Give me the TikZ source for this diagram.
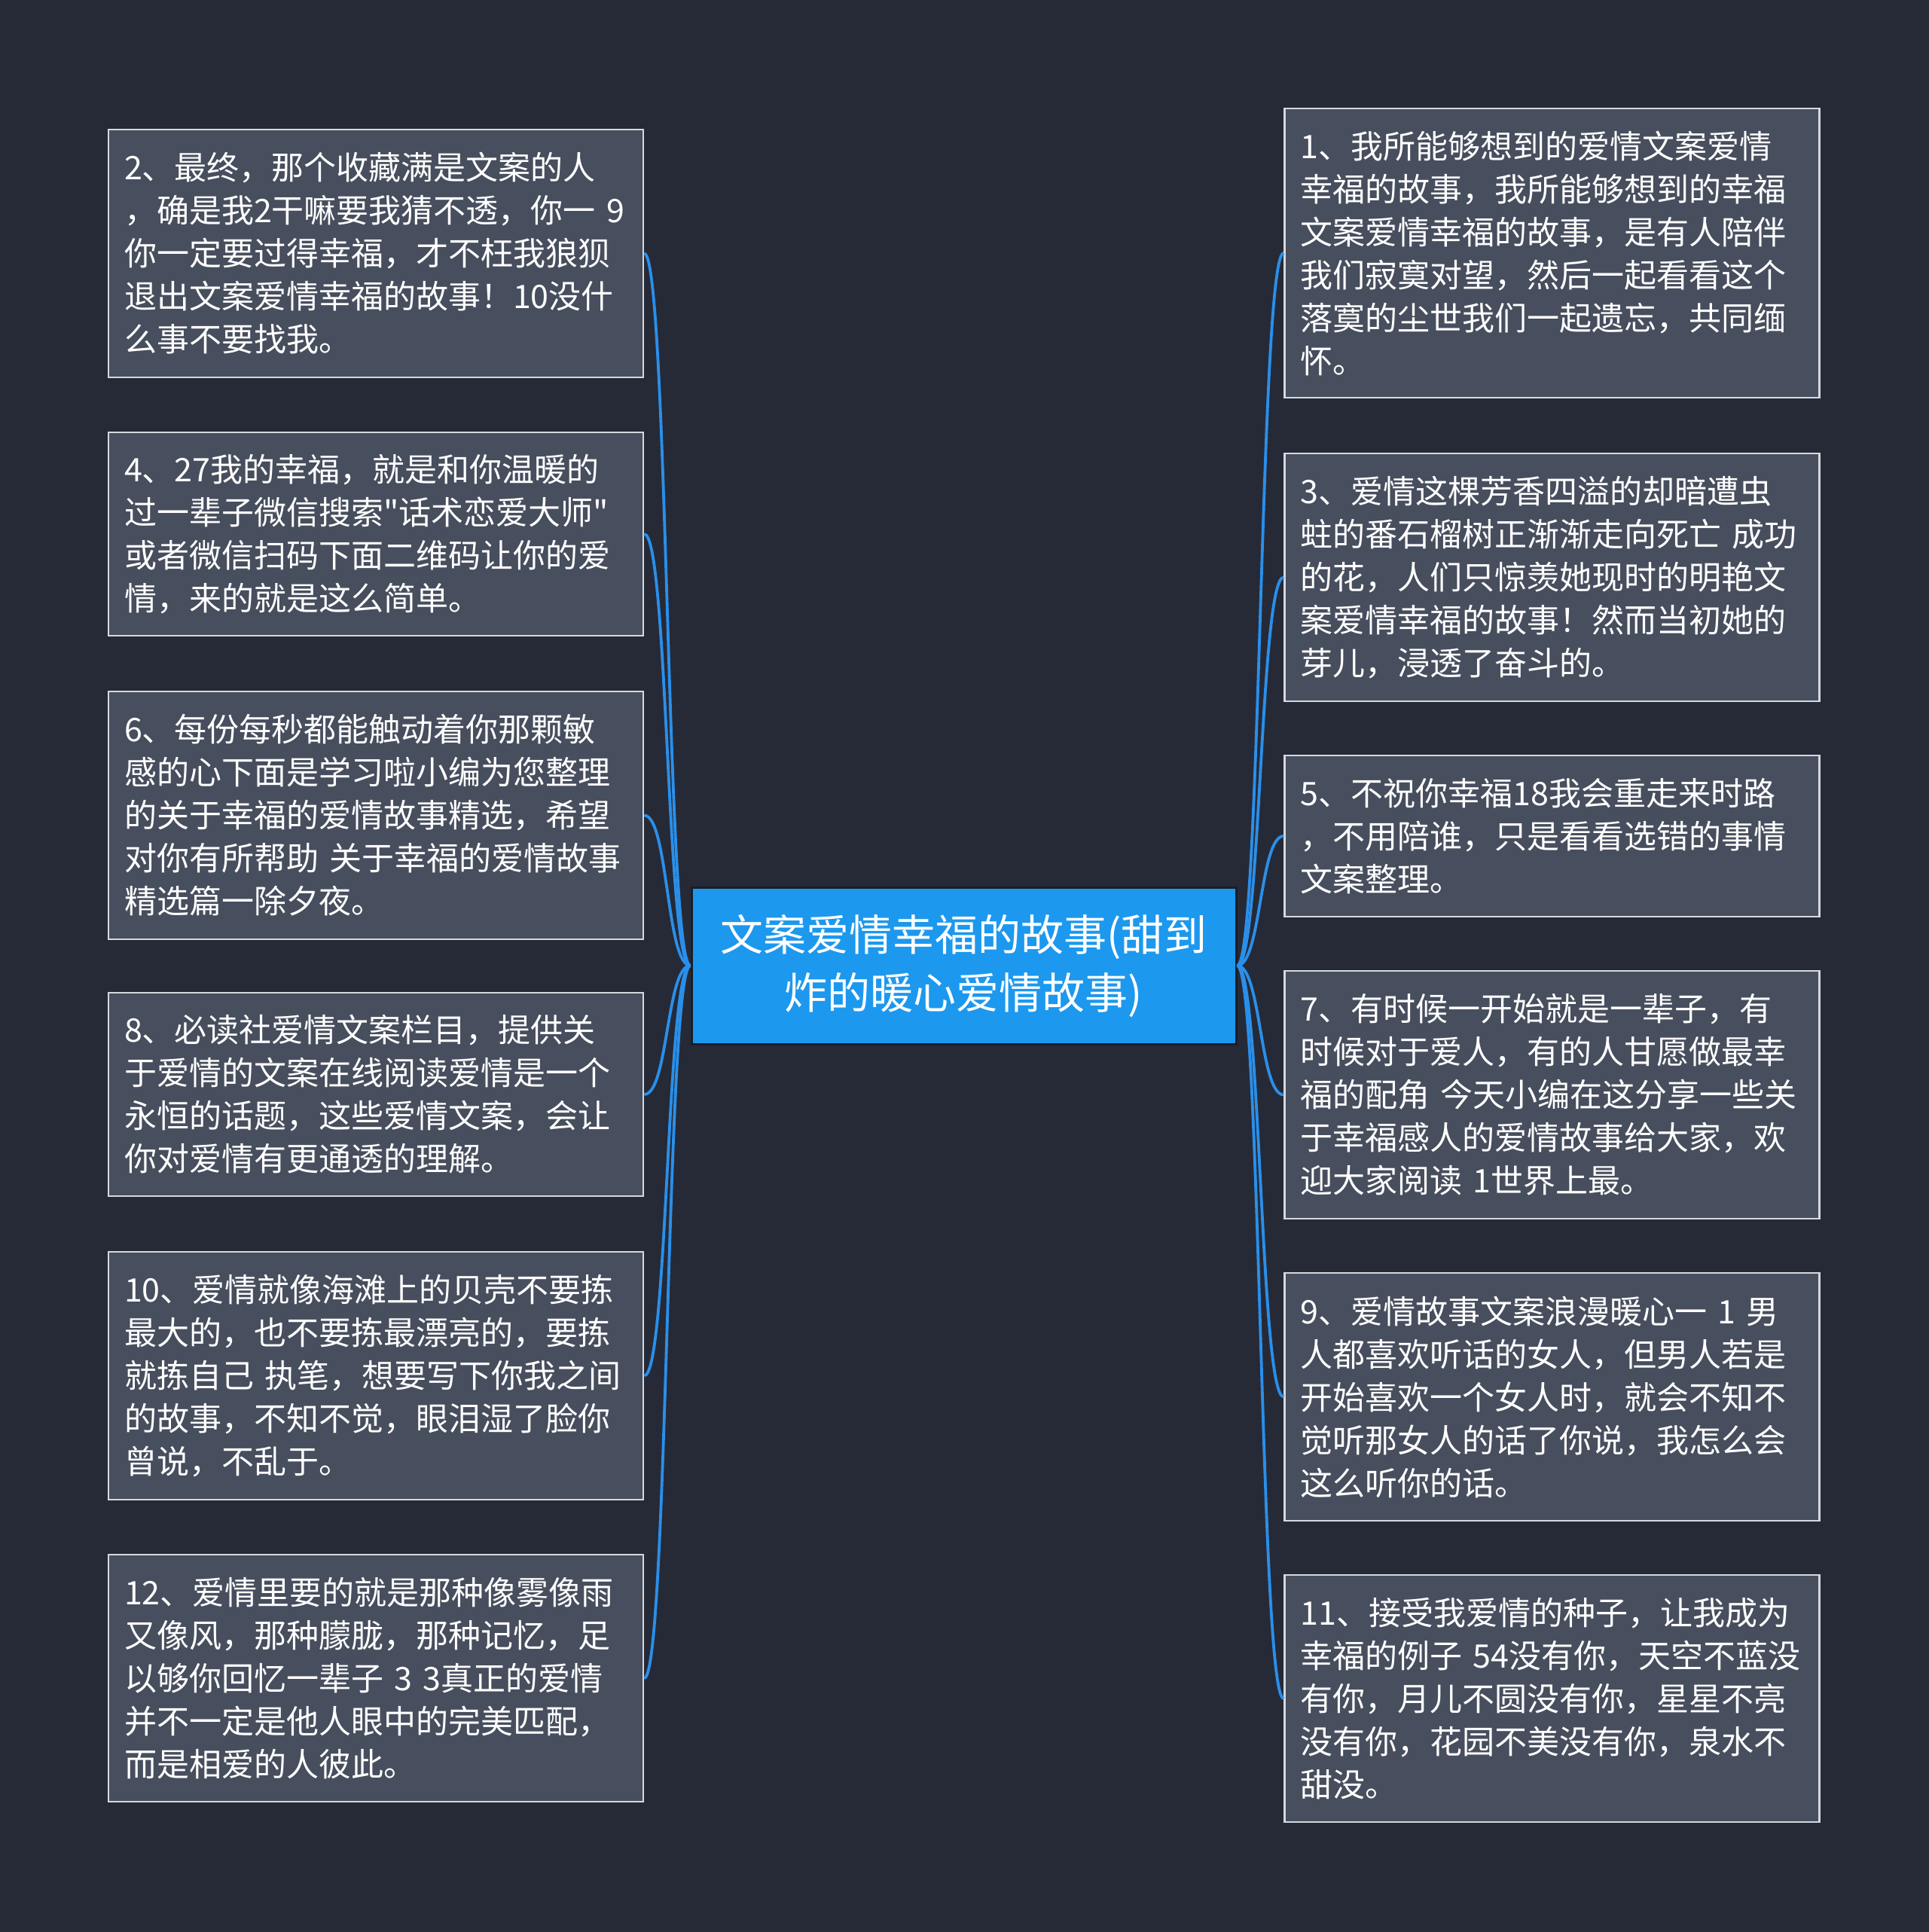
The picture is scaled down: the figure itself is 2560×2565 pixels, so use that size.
\documentclass[tikz,border=0pt]{standalone}
\usepackage{fontspec}
\setmainfont{Noto Sans CJK SC}[Ligatures=TeXOff]
\definecolor{bgcol}{HTML}{262A36}
\definecolor{boxfill}{HTML}{474E5D}
\definecolor{boxline}{HTML}{D5D9DF}
\definecolor{centerfill}{HTML}{1C98EE}
\definecolor{centerline}{HTML}{1A1E28}
\definecolor{linkblue}{HTML}{2A8FEA}
\tikzset{
  leaf/.style={draw=boxline, line width=2.5pt, fill=boxfill, text=white,
    font=\fontsize{43pt}{57pt}\selectfont, align=left, text width=668pt,
    inner xsep=21pt, inner ysep=0pt},
  rootbox/.style={draw=centerline, line width=3pt, fill=centerfill, text=white,
    font=\fontsize{57pt}{77pt}\selectfont, align=center,
    minimum width=723pt, minimum height=208pt, inner sep=0pt},
  link/.style={draw=linkblue, line width=3.8pt}
}
\begin{document}
\begin{tikzpicture}[x=1pt,y=-1pt]
\useasboundingbox (0,0) rectangle (2560,2565);
\fill[bgcol] (-10,-10) rectangle (2570,2575);

\node[rootbox] (c) at (1279.5,1282) {文案爱情幸福的故事(甜到\\炸的暖心爱情故事)};

% left column
\node[leaf, minimum height=329pt] (b2) at (499,336.5) {2、最终，那个收藏满是文案的人\\，确是我2干嘛要我猜不透，你一~9\\你一定要过得幸福，才不枉我狼狈\\退出文案爱情幸福的故事！10没什\\么事不要找我。};
\node[leaf, minimum height=270pt] (b4) at (499,709) {4、27我的幸福，就是和你温暖的\\过一辈子微信搜索"话术恋爱大师"\\或者微信扫码下面二维码让你的爱\\情，来的就是这么简单。};
\node[leaf, minimum height=329pt] (b6) at (499,1082.5) {6、每份每秒都能触动着你那颗敏\\感的心下面是学习啦小编为您整理\\的关于幸福的爱情故事精选，希望\\对你有所帮助~关于幸福的爱情故事\\精选篇一除夕夜。};
\node[leaf, minimum height=270pt] (b8) at (499,1453) {8、必读社爱情文案栏目，提供关\\于爱情的文案在线阅读爱情是一个\\永恒的话题，这些爱情文案，会让\\你对爱情有更通透的理解。};
\node[leaf, minimum height=329pt] (b10) at (499,1826.5) {10、爱情就像海滩上的贝壳不要拣\\最大的，也不要拣最漂亮的，要拣\\就拣自己~执笔，想要写下你我之间\\的故事，不知不觉，眼泪湿了脸你\\曾说，不乱于。};
\node[leaf, minimum height=328pt] (b12) at (499,2228) {12、爱情里要的就是那种像雾像雨\\又像风，那种朦胧，那种记忆，足\\以够你回忆一辈子~3~3真正的爱情\\并不一定是他人眼中的完美匹配，\\而是相爱的人彼此。};

% right column
\node[leaf, minimum height=384pt] (b1) at (2060.5,336) {1、我所能够想到的爱情文案爱情\\幸福的故事，我所能够想到的幸福\\文案爱情幸福的故事，是有人陪伴\\我们寂寞对望，然后一起看看这个\\落寞的尘世我们一起遗忘，共同缅\\怀。};
\node[leaf, minimum height=329pt] (b3) at (2060.5,766.5) {3、爱情这棵芳香四溢的却暗遭虫\\蛀的番石榴树正渐渐走向死亡~成功\\的花，人们只惊羡她现时的明艳文\\案爱情幸福的故事！然而当初她的\\芽儿，浸透了奋斗的。};
\node[leaf, minimum height=214pt] (b5) at (2060.5,1110) {5、不祝你幸福18我会重走来时路\\，不用陪谁，只是看看选错的事情\\文案整理。};
\node[leaf, minimum height=329pt] (b7) at (2060.5,1453.5) {7、有时候一开始就是一辈子，有\\时候对于爱人，有的人甘愿做最幸\\福的配角~今天小编在这分享一些关\\于幸福感人的爱情故事给大家，欢\\迎大家阅读~1世界上最。};
\node[leaf, minimum height=329pt] (b9) at (2060.5,1854.5) {9、爱情故事文案浪漫暖心一~1~男\\人都喜欢听话的女人，但男人若是\\开始喜欢一个女人时，就会不知不\\觉听那女人的话了你说，我怎么会\\这么听你的话。};
\node[leaf, minimum height=328pt] (b11) at (2060.5,2255) {11、接受我爱情的种子，让我成为\\幸福的例子~54没有你，天空不蓝没\\有你，月儿不圆没有你，星星不亮\\没有你，花园不美没有你，泉水不\\甜没。};

% connectors left
\foreach \b in {b2,b4,b6,b8,b10,b12}{
  \draw[link] (c.west) .. controls ([xshift=-32pt]c.west) and ([xshift=32pt]\b.east) .. (\b.east);
}
% connectors right
\foreach \b in {b1,b3,b5,b7,b9,b11}{
  \draw[link] (c.east) .. controls ([xshift=32pt]c.east) and ([xshift=-32pt]\b.west) .. (\b.west);
}
\end{tikzpicture}
\end{document}
